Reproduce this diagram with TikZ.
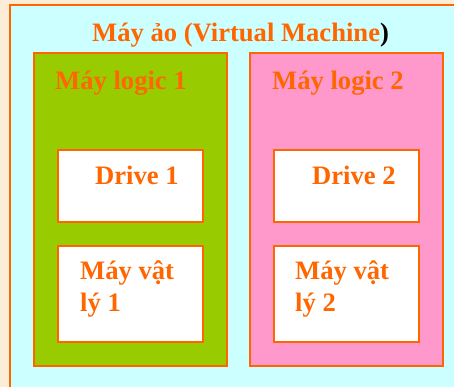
\documentclass[tikz,border=0pt]{standalone}
\usepackage{fontspec}
\setmainfont{Liberation Serif}
\usetikzlibrary{positioning,calc}
\definecolor{vmorange}{RGB}{255,102,0}
\definecolor{vmcyan}{RGB}{204,255,255}
\definecolor{vmgreen}{RGB}{153,204,0}
\definecolor{vmpink}{RGB}{255,153,204}
\definecolor{vmbeige}{RGB}{253,236,214}

\begin{document}
\begin{tikzpicture}[x=1pt, y=1pt, font=\bfseries\fontsize{26.6}{32}\selectfont,
    box/.style={draw=vmorange, line width=1.5pt, rectangle, inner sep=0pt},
    label text/.style={anchor=base west, inner sep=0pt, align=left, text=vmorange}]
        \useasboundingbox (0,0) rectangle (454,387);
        \clip (0,0) rectangle (454,387);
        \fill[vmbeige] (0,0) rectangle (454,387);
        %boxes
        \node[box, fill=vmcyan, minimum width=470, minimum height=400] (vm) at (245, 182) {};
        \node[box, fill=vmgreen, minimum width=193, minimum height=313] (logicA) at (130.5, 177.5) {};
        \node[box, fill=vmpink, minimum width=193, minimum height=313] (logicB) at (346.5, 177.5) {};
        \node[box, fill=white, line width=1.2pt, minimum width=145, minimum height=72] (driveA) at (130.5, 201) {};
        \node[box, fill=white, line width=1.2pt, minimum width=145, minimum height=96] (physA) at (130.5, 93) {};
        \node[box, fill=white, line width=1.2pt, minimum width=145, minimum height=72] (driveB) at (346.5, 201) {};
        \node[box, fill=white, line width=1.2pt, minimum width=145, minimum height=96] (physB) at (346.5, 93) {};
        %texts
        \node[label text] (vmtext) at (92, 345) {Máy ảo (Virtual Machine\textcolor{black}{)}};
        \node[label text] (logicAtext) at (55, 297) {Máy logic 1};
        \node[label text] (logicBtext) at (272, 297) {Máy logic 2};
        \node[label text] (driveAtext) at (95, 202) {Drive 1};
        \node[label text] (driveBtext) at (312, 202) {Drive 2};
        \node[label text] (physAtext) at (80, 75) {Máy vật\\lý 1};
        \node[label text] (physBtext) at (295, 75) {Máy vật\\lý 2};
      \end{tikzpicture}
\end{document}
